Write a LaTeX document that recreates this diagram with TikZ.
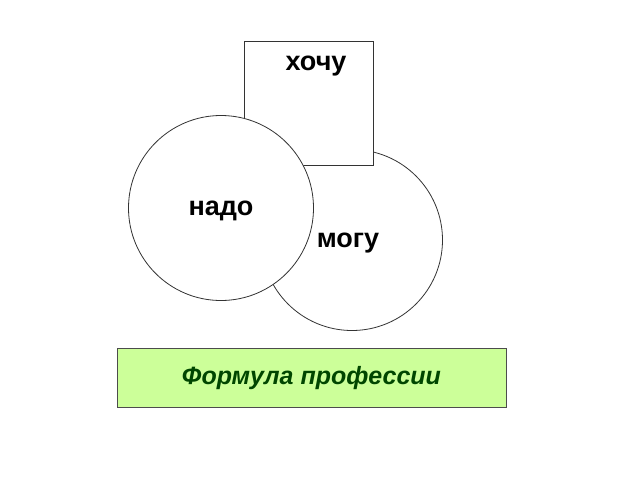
\documentclass[tikz,border=0pt]{standalone}
\usepackage{fontspec}
\setmainfont{Liberation Sans}
\begin{document}
\begin{tikzpicture}[x=1pt,y=-1pt,
  shp/.style={draw=black!80,fill=white,line width=0.8pt},
  lbl/.style={font=\fontsize{27}{30}\selectfont\bfseries}]
\useasboundingbox (0,0) rectangle (640,480);
\node[shp,circle,minimum size=181pt,inner sep=0pt] (mogu) at (352,240) {};
\node[shp,rectangle,minimum width=129pt,minimum height=124pt,inner sep=0pt] (hochu) at (308.5,103) {};
\node[shp,circle,minimum size=185pt,inner sep=0pt] (nado) at (221,208) {};
\node[lbl] (t1) at (316,66) {хочу};
\node[lbl] (t2) at (221,211) {надо};
\node[lbl] (t3) at (348,243) {могу};
\node[draw=black!70,fill={rgb,255:red,204;green,255;blue,153},minimum width=389pt,minimum height=59pt,inner sep=0pt,
  font=\fontsize{25}{28}\selectfont\bfseries\itshape,text={rgb,255:red,0;green,70;blue,0}] (f) at (311.5,378) {Формула профессии};
\end{tikzpicture}
\end{document}
